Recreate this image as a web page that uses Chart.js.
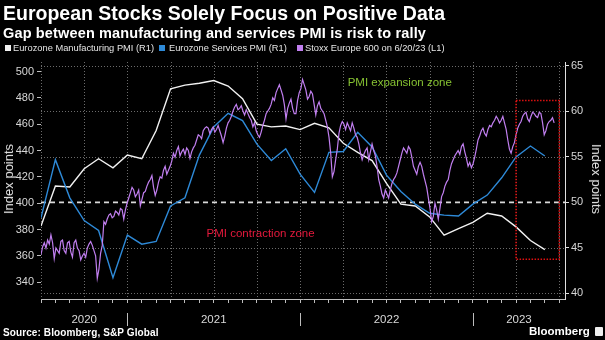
<!DOCTYPE html>
<html>
<head>
<meta charset="utf-8">
<title>European Stocks Solely Focus on Positive Data</title>
<script src="https://cdn.jsdelivr.net/npm/chart.js@4.4.0/dist/chart.umd.min.js"></script>
<style>
  html, body { margin: 0; padding: 0; background: #000; }
  #frame { position: relative; width: 605px; height: 340px; overflow: hidden; background: #000;
           font-family: "Liberation Sans", Arial, sans-serif; color: #fff; }
  #chart { position: absolute; left: 0; top: 0; }
  .abs { position: absolute; white-space: nowrap; }
  #title { left: 3px; top: 3px; font-size: 19.5px; font-weight: bold; line-height: 20px; }
  #subtitle { left: 3px; top: 25px; font-size: 14.5px; font-weight: bold; line-height: 16px; letter-spacing: 0.15px; }
  .leg { top: 43px; font-size: 9.3px; line-height: 11px; color: #e6e6e6; }
  .sw { position: absolute; top: 45px; width: 6px; height: 6px; }
  .axis-title { font-size: 13px; color: #e6e6e6; line-height: 14px; }
  #ytl { left: 9px; top: 179px; transform: translate(-50%, -50%) rotate(-90deg); }
  #ytr { left: 596px; top: 179px; transform: translate(-50%, -50%) rotate(90deg); }
  #source { left: 3px; top: 327px; font-size: 10px; font-weight: bold; letter-spacing: 0.1px; }
  #brand { left: 529px; top: 325px; font-size: 11.5px; font-weight: bold; }
  #logo { left: 595px; top: 327px; width: 8px; height: 9px; background: #eee; border-radius: 1px; }
</style>
</head>
<body>
<div id="frame">
  <canvas id="chart" width="605" height="340"></canvas>
  <div id="title" class="abs">European Stocks Solely Focus on Positive Data</div>
  <div id="subtitle" class="abs">Gap between manufacturing and services PMI is risk to rally</div>
  <div class="sw" style="left:5px;background:#f2f2f2"></div>
  <div class="abs leg" style="left:13px">Eurozone Manufacturing PMI (R1)</div>
  <div class="sw" style="left:159px;background:#2e8ad8"></div>
  <div class="abs leg" style="left:169px">Eurozone Services PMI (R1)</div>
  <div class="sw" style="left:297px;background:#c17ff0"></div>
  <div class="abs leg" style="left:305px">Stoxx Europe 600 on 6/20/23 (L1)</div>
  <div id="ytl" class="abs axis-title">Index points</div>
  <div id="ytr" class="abs axis-title">Index points</div>
  <div id="source" class="abs">Source: Bloomberg, S&amp;P Global</div>
  <div id="brand" class="abs">Bloomberg</div>
  <div id="logo" class="abs"></div>
</div>
<script>
// monthly PMI readings, plotted at month end
const pmiMonths = [
  '2020-06', '2020-07', '2020-08', '2020-09', '2020-10', '2020-11', '2020-12',
  '2021-01', '2021-02', '2021-03', '2021-04', '2021-05', '2021-06',
  '2021-07', '2021-08', '2021-09', '2021-10', '2021-11', '2021-12',
  '2022-01', '2022-02', '2022-03', '2022-04', '2022-05', '2022-06',
  '2022-07', '2022-08', '2022-09', '2022-10', '2022-11', '2022-12',
  '2023-01', '2023-02', '2023-03', '2023-04', '2023-05'
];
const manufacturingPmi = [
  47.4, 51.8, 51.7, 53.7, 54.8, 53.8, 55.2,
  54.8, 57.9, 62.5, 62.9, 63.1, 63.4, 62.8, 61.4, 58.6, 58.3, 58.4, 58.0,
  58.7, 58.2, 56.5, 55.5, 54.6, 52.1, 49.8, 49.6, 48.4, 46.4, 47.1, 47.8,
  48.8, 48.5, 47.3, 45.8, 44.8
];
const servicesPmi = [
  48.3, 54.7, 50.5, 48.0, 46.9, 41.7, 46.4,
  45.4, 45.7, 49.6, 50.5, 55.2, 58.3, 59.8, 59.0, 56.4, 54.6, 55.9, 53.1,
  51.1, 55.5, 55.6, 57.7, 56.1, 53.0, 51.2, 49.8, 48.8, 48.6, 48.5, 49.8,
  50.8, 52.7, 55.0, 56.2, 55.1
];

// Stoxx Europe 600, twice a week from 1 Jul 2020 to 20 Jun 2023
const stoxxStart = '2020-07-01';
const stoxxStepDays = 3.5;
const stoxxValues = [
  361, 367, 370, 366, 372, 369, 376, 370, 358, 366, 364, 362, 371, 372, 364, 362, 370, 371, 363, 359,
  370, 372, 366, 364, 357, 360, 362, 359, 366, 369, 371, 368, 364, 360, 343, 350, 362, 368, 386, 384,
  388, 391, 392, 389, 390, 394, 393, 391, 396, 395, 388, 395, 400, 404, 408, 412, 410, 405, 407, 410,
  398, 403, 408, 409, 413, 416, 418, 421, 412, 406, 410, 416, 420, 419, 425, 428, 422, 425, 428, 432,
  438, 435, 440, 443, 436, 439, 441, 437, 442, 440, 434, 439, 442, 444, 448, 452, 451, 449, 455, 457,
  458, 457, 453, 456, 458, 454, 456, 459, 455, 451, 446, 451, 457, 461, 463, 466, 470, 473, 475, 471,
  472, 474, 470, 467, 471, 468, 465, 463, 458, 461, 455, 452, 450, 454, 459, 463, 468, 470, 472, 475,
  480, 478, 484, 487, 490, 486, 482, 475, 464, 472, 476, 479, 472, 468, 468, 478, 484, 487, 494, 490,
  486, 479, 481, 485, 483, 475, 467, 474, 477, 472, 470, 468, 463, 458, 450, 438, 420, 424, 433, 441,
  453, 459, 462, 460, 456, 461, 458, 455, 461, 457, 452, 450, 445, 438, 433, 437, 440, 442, 433, 439,
  445, 440, 436, 428, 418, 413, 407, 404, 410, 407, 404, 410, 415, 418, 420, 423, 428, 433, 438, 442,
  440, 438, 443, 441, 435, 428, 425, 422, 428, 431, 428, 422, 417, 412, 404, 396, 386, 390, 400, 395,
  388, 396, 405, 408, 413, 416, 418, 425, 430, 433, 436, 438, 440, 437, 443, 445, 439, 434, 428, 431,
  427, 430, 435, 441, 448, 451, 455, 457, 453, 451, 456, 459, 458, 461, 463, 466, 464, 461, 463, 466,
  461, 456, 448, 441, 438, 443, 446, 452, 457, 460, 462, 466, 468, 469, 464, 462, 466, 469, 468, 466,
  465, 469, 468, 461, 452, 455, 460, 462, 463, 465, 461
];

const leftTicks = [340, 360, 380, 400, 420, 440, 460, 480, 500];
const rightTicks = [40, 45, 50, 55, 60, 65];
const yearLabels = ['2020', '2021', '2022', '2023'];
const yearStarts = [6, 18, 30];          // months after 1 Jul 2020
const pmiThreshold = 50;

const toPoints = (xs, ys) => ys.map((v, i) => ({ x: xs[i], y: v }));
const pmiX = pmiMonths.map(s => {
  const [y, m] = s.split('-').map(Number);
  return (y - 2020) * 12 + m - 6;
});
const stoxxX = stoxxValues.map((_, i) => i * stoxxStepDays / 30.4375);

const overlay = {
  id: 'overlay',
  beforeDatasetsDraw(chart) {
    const { ctx, chartArea: a, scales: { x, yR } } = chart;
    ctx.save();
    ctx.lineWidth = 1;
    ctx.strokeStyle = '#6b6b6b';
    ctx.setLineDash([1, 2]);
    rightTicks.forEach(v => {
      if (v === pmiThreshold) return;
      const py = Math.round(yR.getPixelForValue(v)) + 0.5;
      ctx.beginPath(); ctx.moveTo(a.left, py); ctx.lineTo(a.right, py); ctx.stroke();
    });
    for (let m = 0; m <= x.max; m += 3) {
      const px = Math.round(x.getPixelForValue(m)) + 0.5;
      ctx.beginPath(); ctx.moveTo(px, a.top); ctx.lineTo(px, a.bottom); ctx.stroke();
    }
    // 50 = expansion / contraction line
    ctx.strokeStyle = '#d9d9d9';
    ctx.lineWidth = 1.6;
    ctx.setLineDash([5, 4]);
    const p50 = yR.getPixelForValue(pmiThreshold);
    ctx.beginPath(); ctx.moveTo(a.left, p50); ctx.lineTo(a.right, p50); ctx.stroke();
    ctx.restore();
  },
  afterDatasetsDraw(chart) {
    const { ctx, scales: { x, yR } } = chart;
    ctx.save();
    ctx.font = '11.5px "Liberation Sans", Arial, sans-serif';
    ctx.textBaseline = 'middle';
    ctx.fillStyle = '#86c232';
    ctx.fillText('PMI expansion zone', x.getPixelForValue(21.3), yR.getPixelForValue(63.2));
    ctx.fillStyle = '#e5193c';
    ctx.fillText('PMI contraction zone', x.getPixelForValue(11.5), yR.getPixelForValue(46.5));
    // highlight box around the latest quarter
    const x0 = x.getPixelForValue(33), x1 = x.getPixelForValue(36);
    const y0 = yR.getPixelForValue(61.2), y1 = yR.getPixelForValue(43.75);
    ctx.strokeStyle = '#e01010';
    ctx.lineWidth = 1.5;
    ctx.setLineDash([1.5, 1.5]);
    ctx.strokeRect(x0, y0, x1 - x0, y1 - y0);
    ctx.restore();
  },
  afterDraw(chart) {
    const { ctx, chartArea: a, scales: { x } } = chart;
    const bounds = [x.min, ...yearStarts, x.max];
    ctx.save();
    ctx.strokeStyle = '#bdbdbd';
    ctx.lineWidth = 1;
    yearStarts.forEach(m => {
      const px = Math.round(x.getPixelForValue(m)) + 0.5;
      ctx.beginPath(); ctx.moveTo(px, a.bottom + 14); ctx.lineTo(px, a.bottom + 27); ctx.stroke();
    });
    ctx.fillStyle = '#d9d9d9';
    ctx.font = '11.5px "Liberation Sans", Arial, sans-serif';
    ctx.textAlign = 'center';
    ctx.textBaseline = 'middle';
    yearLabels.forEach((lab, k) => {
      ctx.fillText(lab, x.getPixelForValue((bounds[k] + bounds[k + 1]) / 2), a.bottom + 20.5);
    });
    ctx.restore();
  }
};

Chart.defaults.font.family = '"Liberation Sans", Arial, sans-serif';

new Chart(document.getElementById('chart'), {
  type: 'line',
  data: {
    datasets: [
      {
        label: 'Eurozone Manufacturing PMI (R1)',
        data: toPoints(pmiX, manufacturingPmi),
        yAxisID: 'yR',
        borderColor: '#f2f2f2',
        borderWidth: 1.4,
        order: 2
      },
      {
        label: 'Eurozone Services PMI (R1)',
        data: toPoints(pmiX, servicesPmi),
        yAxisID: 'yR',
        borderColor: '#2e8ad8',
        borderWidth: 1.4,
        order: 1
      },
      {
        label: 'Stoxx Europe 600 on 6/20/23 (L1)',
        data: toPoints(stoxxX, stoxxValues),
        yAxisID: 'yL',
        borderColor: '#c17ff0',
        borderWidth: 1.2,
        order: 0
      }
    ]
  },
  options: {
    responsive: false,
    animation: false,
    devicePixelRatio: 1,
    layout: { padding: { top: 62, left: 0, right: 0, bottom: 0 } },
    elements: { point: { radius: 0 }, line: { tension: 0 } },
    plugins: { legend: { display: false }, tooltip: { enabled: false } },
    scales: {
      x: {
        type: 'linear',
        min: 0,
        max: 36.4,
        ticks: { display: false, stepSize: 1, includeBounds: false, autoSkip: false },
        grid: { drawOnChartArea: false, tickLength: 4, tickColor: '#bdbdbd' },
        border: { color: '#bdbdbd' },
        afterFit(s) { s.height = 41; }
      },
      yL: {
        position: 'left',
        min: 327.3,
        max: 507.2,
        ticks: { color: '#d6d6d6', padding: 3, font: { size: 11 } },
        grid: { drawOnChartArea: false, tickLength: 4, tickColor: '#bdbdbd' },
        border: { display: false },
        afterBuildTicks(s) { s.ticks = leftTicks.map(v => ({ value: v })); },
        afterFit(s) { s.width = 41; }
      },
      yR: {
        position: 'right',
        min: 39.37,
        max: 65.44,
        ticks: { color: '#d6d6d6', padding: 2, font: { size: 11 } },
        grid: { drawOnChartArea: false, tickLength: 4, tickColor: '#e0e0e0' },
        border: { color: '#e0e0e0' },
        afterBuildTicks(s) { s.ticks = rightTicks.map(v => ({ value: v })); },
        afterFit(s) { s.width = 40; }
      }
    }
  },
  plugins: [overlay]
});
</script>
</body>
</html>
